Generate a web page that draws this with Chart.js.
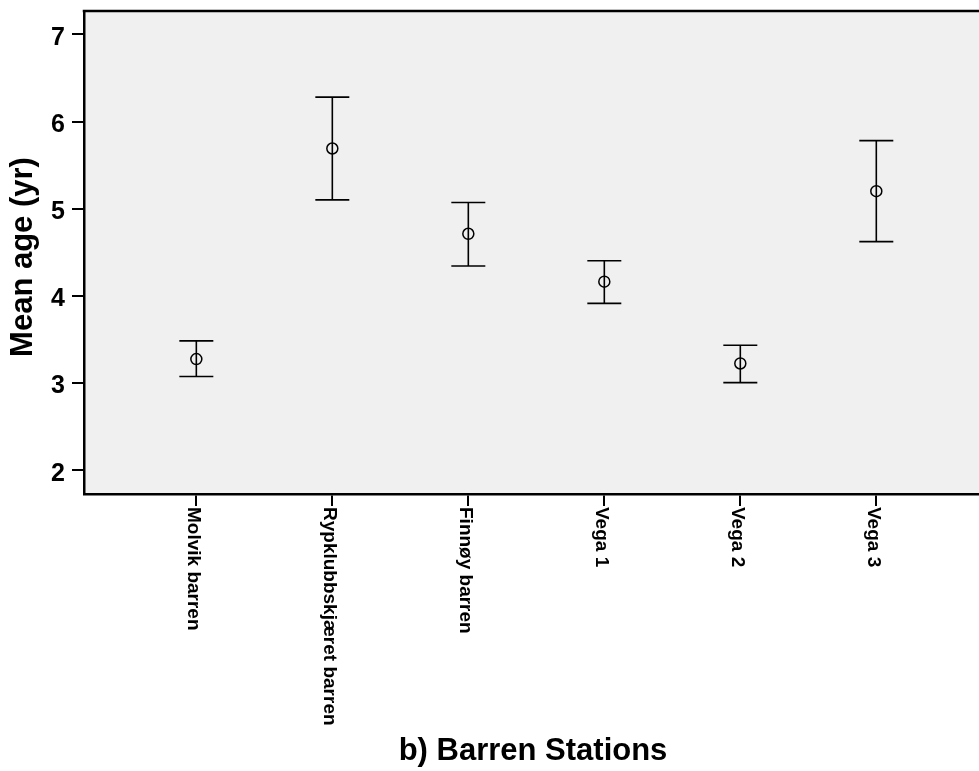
<!DOCTYPE html>
<html>
<head>
<meta charset="utf-8">
<title>Mean age by barren station</title>
<script src="https://cdn.jsdelivr.net/npm/chart.js@4"></script>
<style>
  html, body { margin: 0; padding: 0; background: #ffffff; }
  #wrap { width: 979px; height: 771px; overflow: hidden; position: relative; }
  canvas { display: block; }
</style>
</head>
<body>
<div id="wrap"><canvas id="c" width="997" height="771"></canvas></div>
<script>
// Stations and the mean age with its confidence interval at each one
const stations = ['Molvik barren', 'Rypklubbskjæret barren', 'Finnøy barren', 'Vega 1', 'Vega 2', 'Vega 3'];
const meanAge  = [3.27, 5.69, 4.71, 4.16, 3.22, 5.20];
const lowerCI  = [3.07, 5.10, 4.34, 3.91, 3.00, 4.62];
const upperCI  = [3.48, 6.28, 5.07, 4.40, 3.43, 5.78];
const yTicks   = [2, 3, 4, 5, 6, 7];
const xTitle   = 'b) Barren Stations';
const yTitle   = 'Mean age (yr)';

const FAMILY = '"Liberation Sans", Arial, Helvetica, sans-serif';

// Keep the plot frame exactly where the layout puts it
function noScalePadding(s) {
  s.paddingTop = 0; s.paddingBottom = 0; s.paddingLeft = 0; s.paddingRight = 0;
}

// Plot background, error bars, rotated station names and axis titles
const framePlugin = {
  id: 'frame',
  beforeDraw(chart) {
    const { ctx, chartArea: a } = chart;
    ctx.save();
    ctx.fillStyle = '#f0f0f0';
    ctx.fillRect(a.left, a.top, a.right - a.left, a.bottom - a.top);
    ctx.restore();
  },
  beforeDatasetsDraw(chart) {
    const { ctx, scales: { x, y } } = chart;
    ctx.save();
    ctx.strokeStyle = '#000';
    ctx.lineWidth = 1.6;
    const cap = 17;
    stations.forEach((_, i) => {
      const px = x.getPixelForValue(i);
      const yHi = y.getPixelForValue(upperCI[i]);
      const yLo = y.getPixelForValue(lowerCI[i]);
      ctx.beginPath();
      ctx.moveTo(px, yHi); ctx.lineTo(px, yLo);
      ctx.moveTo(px - cap, yHi); ctx.lineTo(px + cap, yHi);
      ctx.moveTo(px - cap, yLo); ctx.lineTo(px + cap, yLo);
      ctx.stroke();
    });
    ctx.restore();
  },
  afterDraw(chart) {
    const { ctx, chartArea: a, scales: { x } } = chart;
    ctx.save();
    // top frame line
    ctx.strokeStyle = '#000';
    ctx.lineWidth = 2.5;
    ctx.beginPath();
    ctx.moveTo(a.left - 1.25, a.top);
    ctx.lineTo(a.right, a.top);
    ctx.stroke();

    // station names, reading downwards from each tick
    ctx.fillStyle = '#000';
    ctx.font = 'bold 19px ' + FAMILY;
    ctx.textAlign = 'left';
    ctx.textBaseline = 'middle';
    stations.forEach((name, i) => {
      const px = x.getPixelForValue(i);
      ctx.save();
      ctx.translate(px - 3, a.bottom + 13);
      ctx.rotate(Math.PI / 2);
      ctx.fillText(name, 0, 0);
      ctx.restore();
    });

    // axis titles
    ctx.font = 'bold 31px ' + FAMILY;
    ctx.textAlign = 'center';
    ctx.textBaseline = 'alphabetic';
    ctx.fillText(xTitle, 533, 760);

    ctx.save();
    ctx.translate(32, 257);
    ctx.rotate(-Math.PI / 2);
    ctx.fillText(yTitle, 0, 0);
    ctx.restore();

    ctx.restore();
  }
};

new Chart(document.getElementById('c'), {
  type: 'scatter',
  data: {
    datasets: [{
      data: meanAge.map((v, i) => ({ x: i, y: v })),
      pointStyle: 'circle',
      pointRadius: 5.5,
      pointHoverRadius: 5.5,
      borderColor: '#000',
      backgroundColor: 'rgba(0,0,0,0)',
      borderWidth: 1.5
    }]
  },
  options: {
    responsive: false,
    animation: false,
    devicePixelRatio: 1,
    layout: { padding: { top: 11, left: 0, right: 0, bottom: 0 } },
    plugins: { legend: { display: false }, tooltip: { enabled: false } },
    scales: {
      x: {
        type: 'linear',
        position: 'bottom',
        min: -0.826,
        max: 5.836,
        afterBuildTicks: s => { s.ticks = stations.map((_, i) => ({ value: i })); },
        afterFit: s => { s.height = 277; noScalePadding(s); },
        grid: { drawOnChartArea: false, drawTicks: true, tickLength: 12, color: '#000', lineWidth: 2 },
        border: { display: true, color: '#000', width: 2.5 },
        ticks: { display: false }
      },
      y: {
        type: 'linear',
        position: 'left',
        min: 1.72,
        max: 7.27,
        afterBuildTicks: s => { s.ticks = yTicks.map(v => ({ value: v })); },
        afterFit: s => { s.width = 84; noScalePadding(s); },
        grid: { drawOnChartArea: false, drawTicks: true, tickLength: 12, color: '#000', lineWidth: 2 },
        border: { display: true, color: '#000', width: 2.5 },
        ticks: {
          color: '#000',
          font: { family: FAMILY, size: 25, weight: 'bold' },
          padding: 7,
          labelOffset: 4,
          callback: v => String(v)
        }
      }
    }
  },
  plugins: [framePlugin]
});
</script>
</body>
</html>
